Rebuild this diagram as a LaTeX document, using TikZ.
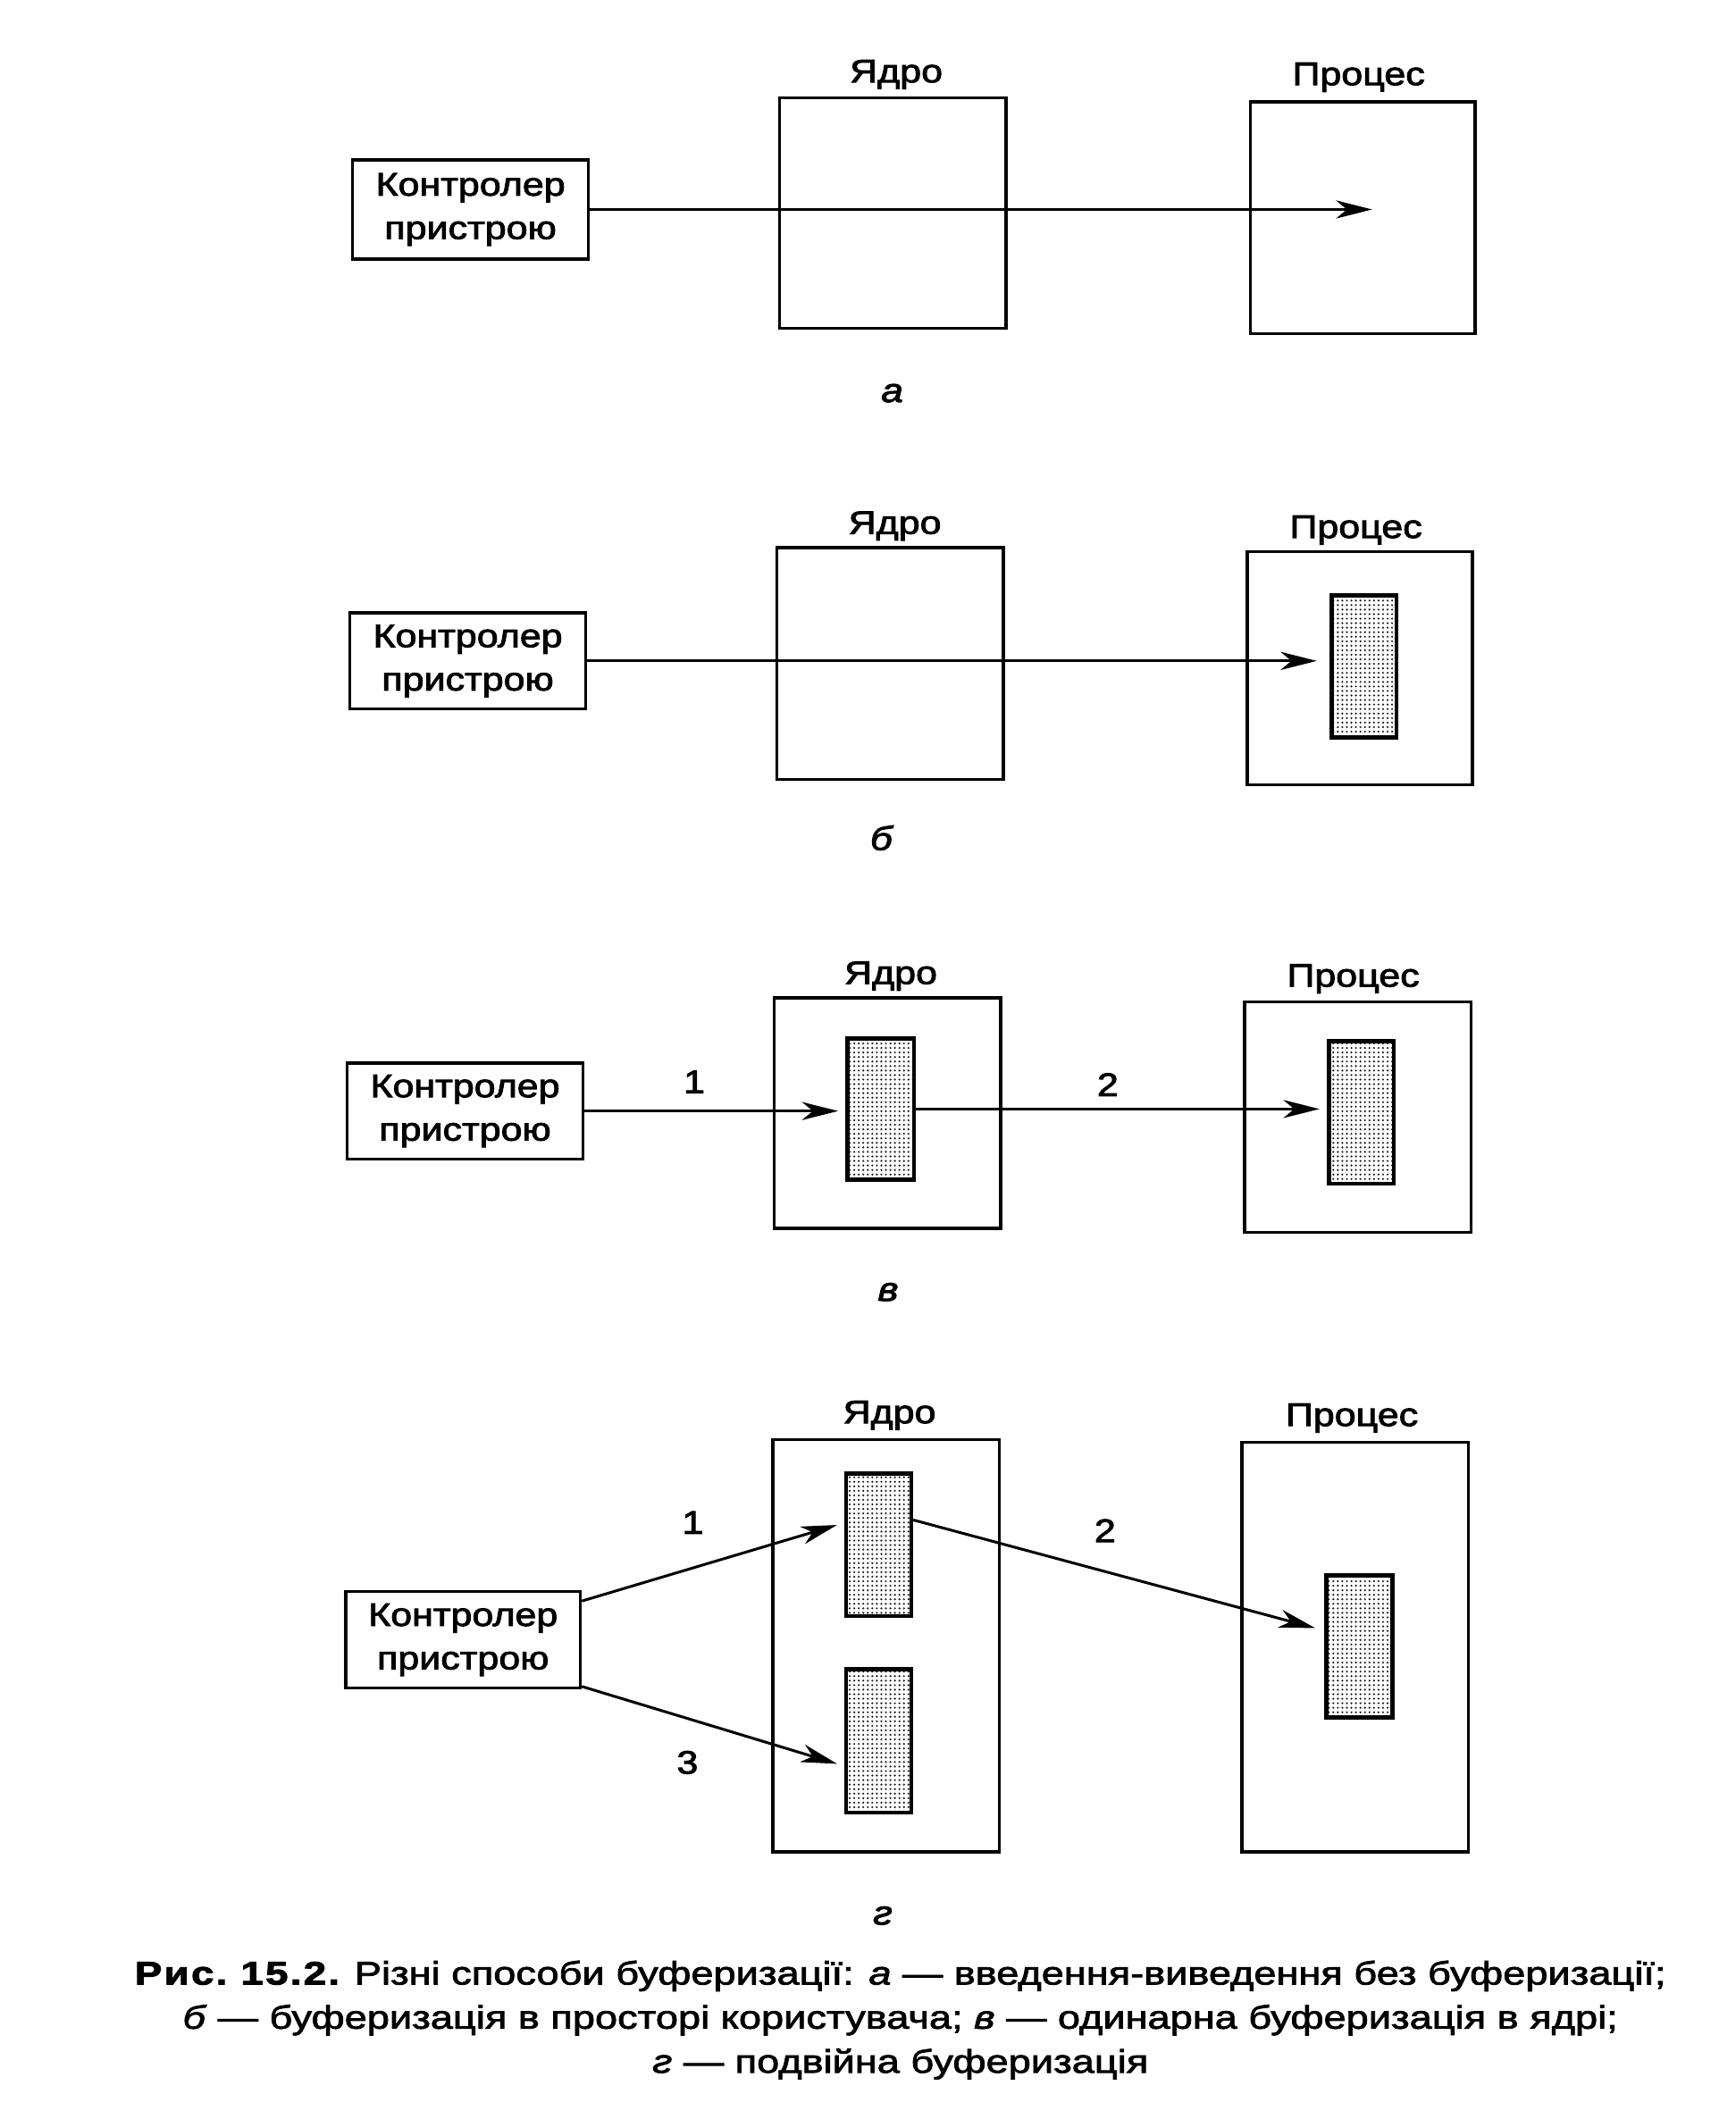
\documentclass[tikz,border=0pt]{standalone}
\usepackage{fontspec}
\setmainfont{Liberation Sans}
\newfontfamily\lab{Liberation Sans}[FakeStretch=1.18,FakeBold=2.5]
\newfontfamily\capf{Liberation Sans}[FakeStretch=1.24,FakeBold=2.2]
\newfontfamily\capb{Liberation Sans}[FakeStretch=1.26,FakeBold=2.5,LetterSpace=6]
\usetikzlibrary{arrows.meta,fit,calc,patterns.meta}
\tikzdeclarepattern{
  name=stip,
  type=uncolored,
  bottom left={(-1.25pt,-1.25pt)},
  top right={(1.25pt,1.25pt)},
  tile size={(2.5pt,2.5pt)},
  code={\fill (0pt,0pt) circle (0.6pt);}
}
\begin{document}
\begin{tikzpicture}[x=0.75pt,y=-0.75pt,
  every node/.style={font=\lab\fontsize{18}{24}\selectfont},
  blk/.style={draw,line width=1.7pt,inner sep=0pt},
  buf/.style={draw,line width=2.3pt,pattern=stip,pattern color=black!90,inner sep=0pt},
  arr/.style={line width=1.5pt,-{Stealth[length=20pt,width=10pt,inset=6pt]}},
  txt/.style={inner sep=0pt,align=center},
  plab/.style={inner sep=0pt,font=\lab\itshape\fontsize{18.5}{24}\selectfont},
  num/.style={inner sep=0pt}]
\useasboundingbox (0,0) rectangle (1280,1563);
\fill[white] (0,0) rectangle (1280,1563);
% ---------- a ----------
\node[blk,fit={(260,118)(434,191)}] (ca) {};
\node[txt] (cat) at (ca.center) {Контролер\\пристрою};
\node[blk,fit={(575,72)(742,242)}] (ka) {};
\node[blk,fit={(922,75)(1088,246)}] (pa) {};
\node[txt] (kal) at (661,55) {Ядро};
\node[txt] (pal) at (1002,57) {Процес};
\coordinate (ea) at (1012,154.5);
\draw[arr] (ca.east) -- (ea);
\node[plab] (la) at (658,290) {а};
% ---------- b ----------
\node[blk,fit={(258,452)(432,523)}] (cb) {};
\node[txt] (cbt) at (cb.center) {Контролер\\пристрою};
\node[blk,fit={(573,404)(740,575)}] (kb) {};
\node[blk,fit={(920,407)(1086,579)}] (pb) {};
\node[buf,fit={(982,439)(1030,544)}] (pbb) {};
\node[txt] (kbl) at (660,388) {Ядро};
\node[txt] (pbl) at (1000,391) {Процес};
\draw[arr,shorten >=7pt] (cb.east) -- (cb.east -| pbb.west);
\node[plab] (lb) at (650,618) {б};
% ---------- c ----------
\node[blk,fit={(256,784)(430,855)}] (cc) {};
\node[txt] (cct) at (cc.center) {Контролер\\пристрою};
\node[blk,fit={(571,736)(738,906)}] (kc) {};
\node[blk,fit={(918,739)(1085,909)}] (pc) {};
\node[buf,fit={(625,766)(674,870)}] (kcb) {};
\node[buf,fit={(980,768)(1028,873)}] (pcb) {};
\node[txt] (kcl) at (657,720) {Ядро};
\node[txt] (pcl) at (998,722) {Процес};
\draw[arr,shorten >=4pt] (cc.east) -- (cc.east -| kcb.west);
\draw[arr,shorten >=4pt] (kcb.east) -- (kcb.east -| pcb.west);
\node[num] (n1c) at (512,798) {1};
\node[num] (n2c) at (817,800) {2};
\node[plab] (lc) at (655,953) {в};
% ---------- d ----------
\node[blk,fit={(255,1174)(428,1245)}] (cd) {};
\node[txt] (cdt) at (cd.center) {Контролер\\пристрою};
\node[blk,fit={(570,1062)(737,1366)}] (kd) {};
\node[blk,fit={(916,1064)(1083,1366)}] (pd) {};
\node[buf,fit={(624,1087)(672,1192)}] (kd1) {};
\node[buf,fit={(624,1231)(672,1337)}] (kd2) {};
\node[buf,fit={(978,1162)(1027,1267)}] (pdb) {};
\node[txt] (kdl) at (656,1044) {Ядро};
\node[txt] (pdl) at (997,1046) {Процес};
\draw[arr,shorten >=4pt] ($(cd.north east)!0.11!(cd.south east)$) -- ($(kd1.north west)!0.35!(kd1.south west)$);
\draw[arr,shorten >=5pt] ($(kd1.north east)!0.33!(kd1.south east)$) -- ($(pdb.north west)!0.39!(pdb.south west)$);
\draw[arr,shorten >=4pt] ($(cd.north east)!0.97!(cd.south east)$) -- ($(kd2.north west)!0.67!(kd2.south west)$);
\node[num] (n1d) at (511,1123) {1};
\node[num] (n2d) at (815,1129) {2};
\node[num] (n3d) at (507,1300) {3};
\node[plab] (ld) at (651,1413) {г};
% ---------- caption ----------
\node[txt,font=\capf\fontsize{18}{24.4}\selectfont] (cap) at (664,1490)
 {{\capb\bfseries Рис.~15.2.} Різні способи буферизації: \textit{а} — введення-виведення без буферизації;\\
  \textit{б} — буферизація в просторі користувача; \textit{в} — одинарна буферизація в ядрі;\\
  \textit{г} — подвійна буферизація};
\end{tikzpicture}
\end{document}
